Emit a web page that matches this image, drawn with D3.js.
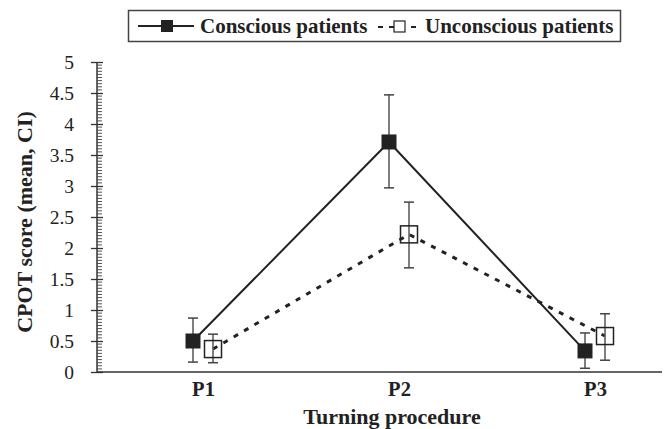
<!DOCTYPE html>
<html>
<head>
<meta charset="utf-8">
<script src="https://cdn.jsdelivr.net/npm/d3@7"></script>
<style>
  body { margin: 0; background: #fff; }
  svg { display: block; font-family: 'Liberation Serif', 'DejaVu Serif', serif; }
</style>
</head>
<body>
<div id="chart"></div>
<script>
// data
const categories = ['P1', 'P2', 'P3'];
const consciousMean = [0.5, 3.71, 0.34];
const consciousLow = [0.16, 2.97, 0.06];
const consciousHigh = [0.87, 4.47, 0.63];
const unconsciousMean = [0.37, 2.22, 0.58];
const unconsciousLow = [0.15, 1.68, 0.19];
const unconsciousHigh = [0.61, 2.74, 0.94];
const yTicks = [0, 0.5, 1, 1.5, 2, 2.5, 3, 3.5, 4, 4.5, 5];

const width = 671, height = 429;
const plot = { left: 97, right: 662, top: 62, bottom: 372 };
const ink = '#222';

const svg = d3.select('#chart').append('svg')
  .attr('width', width)
  .attr('height', height);

const x = d3.scalePoint()
  .domain(categories)
  .range([203, 595]);
const y = d3.scaleLinear()
  .domain([0, 5])
  .range([plot.bottom, plot.top]);

// minor ticks on y axis
const minor = d3.range(0, 5.0001, 0.05).filter(v => Math.abs(v * 2 - Math.round(v * 2)) > 1e-6);
svg.append('g')
  .selectAll('line')
  .data(minor)
  .join('line')
    .attr('x1', plot.left)
    .attr('x2', plot.left + 5)
    .attr('y1', d => y(d))
    .attr('y2', d => y(d))
    .attr('stroke', '#555')
    .attr('stroke-width', 1);

// y axis
const yAxis = d3.axisLeft(y)
  .tickValues(yTicks)
  .tickFormat(d => d)
  .tickSize(6)
  .tickPadding(17);
const yg = svg.append('g')
  .attr('transform', `translate(${plot.left},0)`)
  .call(yAxis);
yg.select('.domain').remove();
yg.selectAll('.tick line')
  .attr('x2', 6)
  .attr('x1', -6)
  .attr('stroke', '#333')
  .attr('stroke-width', 1.3);
yg.selectAll('.tick text')
  .attr('font-family', "'Liberation Serif', serif")
  .attr('font-size', '19.5px')
  .attr('fill', ink);
svg.append('line')
  .attr('x1', plot.left).attr('x2', plot.left)
  .attr('y1', plot.top).attr('y2', plot.bottom)
  .attr('stroke', '#333')
  .attr('stroke-width', 1.5);

// x axis
const xAxis = d3.axisBottom(x).tickSize(0).tickPadding(9);
const xg = svg.append('g')
  .attr('transform', `translate(0,${plot.bottom})`)
  .call(xAxis);
xg.select('.domain').remove();
xg.selectAll('.tick text')
  .attr('font-family', "'Liberation Serif', serif")
  .attr('font-weight', 'bold')
  .attr('font-size', '20.5px')
  .attr('fill', ink);
svg.append('line')
  .attr('x1', plot.left).attr('x2', plot.right)
  .attr('y1', plot.bottom).attr('y2', plot.bottom)
  .attr('stroke', '#333')
  .attr('stroke-width', 1.5);

// axis titles
svg.append('text')
  .attr('x', 392)
  .attr('y', 424)
  .attr('text-anchor', 'middle')
  .attr('font-weight', 'bold')
  .attr('font-size', '22px')
  .attr('fill', ink)
  .text('Turning procedure');
svg.append('text')
  .attr('transform', `translate(32,222) rotate(-90)`)
  .attr('text-anchor', 'middle')
  .attr('font-weight', 'bold')
  .attr('font-size', '22px')
  .attr('fill', ink)
  .text('CPOT score (mean, CI)');

// series
const offset = 10;
const series = [
  { name: 'Conscious patients', mean: consciousMean, low: consciousLow, high: consciousHigh, dx: -offset, dash: null, filled: true },
  { name: 'Unconscious patients', mean: unconsciousMean, low: unconsciousLow, high: unconsciousHigh, dx: offset, dash: '5,7', filled: false }
];

series.forEach(s => {
  const pts = categories.map((c, i) => ({ c, i, m: s.mean[i], lo: s.low[i], hi: s.high[i] }));
  const line = d3.line()
    .x(d => x(d.c) + s.dx)
    .y(d => y(d.m));
  svg.append('path')
    .datum(pts)
    .attr('d', line)
    .attr('fill', 'none')
    .attr('stroke', ink)
    .attr('stroke-width', s.filled ? 2 : 3)
    .attr('stroke-dasharray', s.dash);

  // error bars
  const eb = svg.append('g').selectAll('g')
    .data(pts)
    .join('g')
      .attr('transform', d => `translate(${x(d.c) + s.dx},0)`);
  eb.append('line')
    .attr('y1', d => y(d.lo)).attr('y2', d => y(d.hi))
    .attr('stroke', '#555').attr('stroke-width', 1.5);
  eb.selectAll('line.cap')
    .data(d => [d.lo, d.hi])
    .join('line')
      .attr('class', 'cap')
      .attr('x1', -5).attr('x2', 5)
      .attr('y1', v => y(v)).attr('y2', v => y(v))
      .attr('stroke', '#444').attr('stroke-width', 1.5);

  const size = s.filled ? 14 : 17;
  svg.append('g').selectAll('rect')
    .data(pts)
    .join('rect')
      .attr('x', d => x(d.c) + s.dx - size / 2)
      .attr('y', d => y(d.m) - size / 2)
      .attr('width', size)
      .attr('height', size)
      .attr('fill', s.filled ? ink : 'none')
      .attr('stroke', ink)
      .attr('stroke-width', s.filled ? 1 : 1.5);
});

// legend
const legend = svg.append('g');
legend.append('rect')
  .attr('x', 128.5).attr('y', 10.5)
  .attr('width', 492).attr('height', 31)
  .attr('fill', '#fff')
  .attr('stroke', '#444')
  .attr('stroke-width', 1.5);
legend.append('line')
  .attr('x1', 138).attr('x2', 194).attr('y1', 26).attr('y2', 26)
  .attr('stroke', ink).attr('stroke-width', 2);
legend.append('rect')
  .attr('x', 161).attr('y', 20).attr('width', 12).attr('height', 12)
  .attr('fill', ink);
legend.append('text')
  .attr('x', 200).attr('y', 33)
  .attr('font-weight', 'bold').attr('font-size', '21px')
  .attr('fill', ink)
  .text(series[0].name);
legend.append('line')
  .attr('x1', 378).attr('x2', 419).attr('y1', 27).attr('y2', 27)
  .attr('stroke', ink).attr('stroke-width', 2)
  .attr('stroke-dasharray', '5,6');
legend.append('rect')
  .attr('x', 394).attr('y', 21).attr('width', 11).attr('height', 11)
  .attr('fill', '#fff')
  .attr('stroke', ink).attr('stroke-width', 1.2);
legend.append('text')
  .attr('x', 425).attr('y', 33)
  .attr('font-weight', 'bold').attr('font-size', '21px')
  .attr('fill', ink)
  .text(series[1].name);
</script>
</body>
</html>
